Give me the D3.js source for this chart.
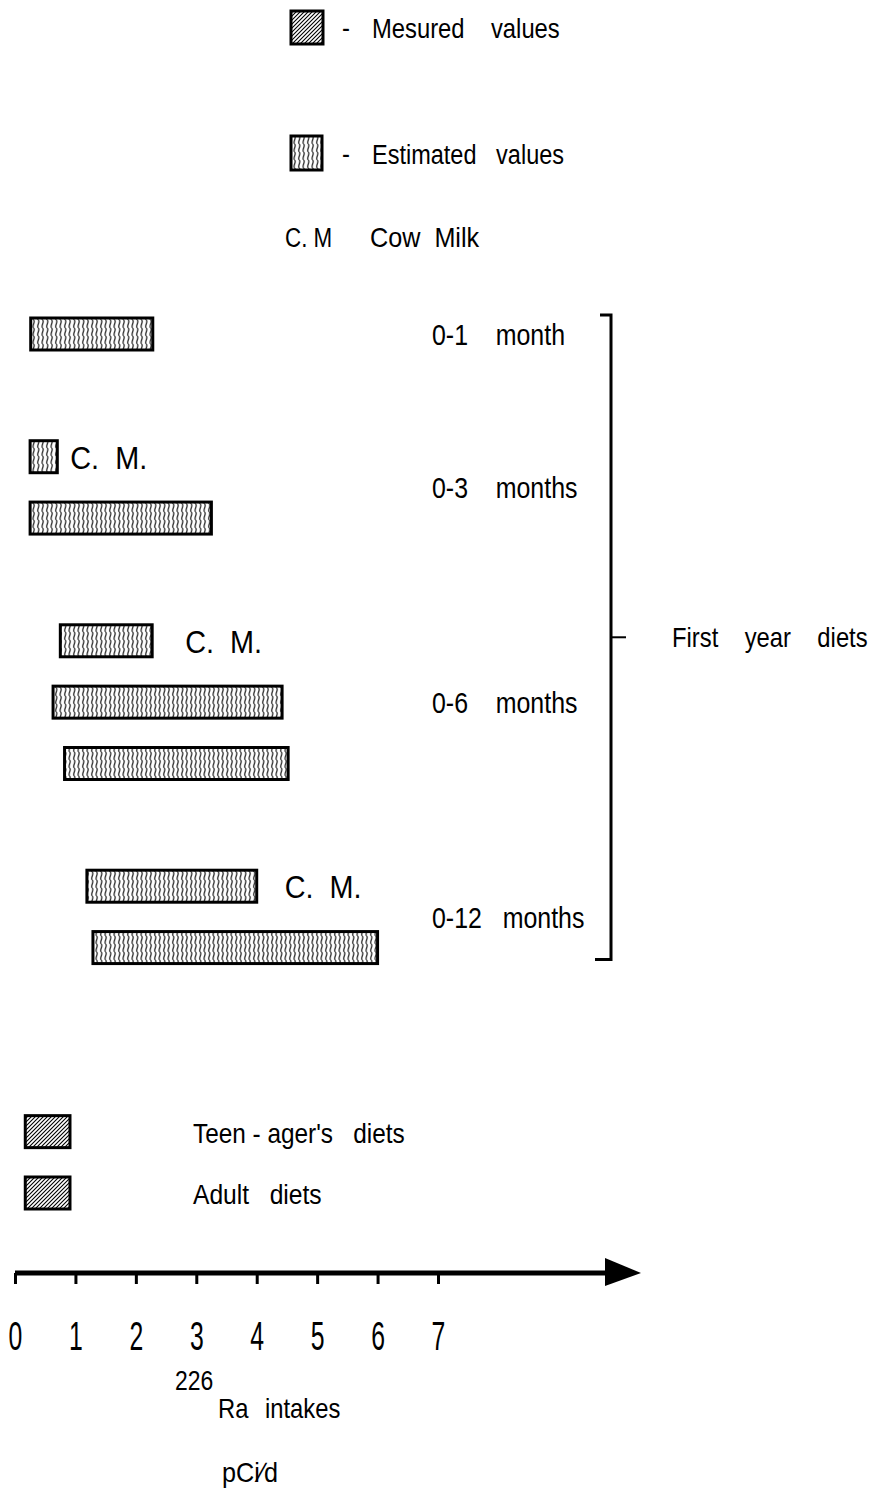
<!doctype html>
<html>
<head>
<meta charset="utf-8">
<title>226Ra intakes</title>
<script src="https://cdn.jsdelivr.net/npm/d3@7"></script>
<style>
  body { margin: 0; background: #fff; }
  svg text { font-family: "Liberation Sans", Arial, sans-serif; fill: #000; white-space: pre; }
</style>
</head>
<body>
<div id="chart"></div>
<script>
// rows of the chart (row index counts empty gaps between groups)
var barNames = ["0-1 month", "0-3 months C.M.", "0-3 months", "0-6 months C.M.", "0-6 months a", "0-6 months b",
                "0-12 months C.M.", "0-12 months", "Teen-ager's diets", "Adult diets"];
var barRow   = [0, 2, 3, 5, 6, 7, 9, 10, 13, 14];
var barStart = [0.26, 0.25, 0.25, 0.75, 0.63, 0.82, 1.19, 1.29, 0.17, 0.17];
var barEnd   = [2.28, 0.70, 3.25, 2.27, 4.42, 4.52, 4.00, 6.00, 0.91, 0.91];
var barKind  = ["est", "est", "est", "est", "est", "est", "est", "est", "meas", "meas"];
var barCM    = [false, true, false, true, false, false, true, false, false, false];

// age group labels and the row they sit on
var groupLabels = ["0-1    month", "0-3    months", "0-6    months", "0-12   months"];
var groupRow    = [0, 2.5, 6, 9.5];

var tickValues = [0, 1, 2, 3, 4, 5, 6, 7];

var W = 872, H = 1491;

var svg = d3.select("#chart").append("svg")
    .attr("width", W)
    .attr("height", H);

// narrow text: the original uses a condensed face, so squeeze horizontally
function label(str, x, y, size, sx) {
  return svg.append("text")
      .attr("transform", "translate(" + x + "," + y + ") scale(" + (sx || 0.85) + ",1)")
      .style("font-size", size + "px")
      .text(str);
}

// scales
var x = d3.scaleLinear().domain([0, 7]).range([15, 438]);
var y = d3.scaleLinear().domain([0, 14]).range([334, 1193]);
var barH = 32;

// patterns
var defs = svg.append("defs");
var wavy = defs.append("pattern")
    .attr("id", "wavy")
    .attr("patternUnits", "userSpaceOnUse")
    .attr("width", 4.5).attr("height", 8);
wavy.append("rect").attr("width", 4.5).attr("height", 8).attr("fill", "#fff");
wavy.append("path")
    .attr("d", "M2.2,0 C4.4,2 0,6 2.2,8")
    .attr("fill", "none").attr("stroke", "#000").attr("stroke-width", 1.1);

var hatch = defs.append("pattern")
    .attr("id", "hatch")
    .attr("patternUnits", "userSpaceOnUse")
    .attr("width", 4).attr("height", 4);
hatch.append("rect").attr("width", 4).attr("height", 4).attr("fill", "#fff");
hatch.append("path")
    .attr("d", "M-1,1 L1,-1 M0,4 L4,0 M3,5 L5,3")
    .attr("stroke", "#000").attr("stroke-width", 1.1);

// bars
var bars = barNames.map(function(n, i) {
  return {name: n, row: barRow[i], start: barStart[i], end: barEnd[i], kind: barKind[i], cm: barCM[i]};
});

svg.selectAll(".bar")
    .data(bars)
  .enter().append("rect")
    .attr("class", "bar")
    .attr("x", function(d) { return x(d.start); })
    .attr("y", function(d) { return y(d.row) - barH / 2; })
    .attr("width", function(d) { return x(d.end) - x(d.start); })
    .attr("height", barH)
    .attr("fill", function(d) { return d.kind == "meas" ? "url(#hatch)" : "url(#wavy)"; })
    .attr("stroke", "#000")
    .attr("stroke-width", 3);

// C. M. labels next to cow milk bars
var cmGap = [13, 33, 28];
bars.filter(function(d) { return d.cm; }).forEach(function(d, i) {
  label("C.  M.", x(d.end) + cmGap[i], y(d.row) + 12, 31, 0.93);
});

// group labels
groupLabels.forEach(function(g, i) {
  label(g, 432, y(groupRow[i]) + 11, 29, 0.86);
});

// teenager / adult labels
label("Teen - ager's   diets", 193, y(13) + 11, 28, 0.87);
label("Adult   diets", 193, y(14) + 11, 28, 0.88);

// bracket for first year diets
var yTop = y(0) - 19, yBot = y(10) + 12;
svg.append("path")
    .attr("d", "M600," + yTop + " L611," + yTop + " L611," + yBot + " L595," + yBot)
    .attr("fill", "none").attr("stroke", "#000").attr("stroke-width", 3);
var yMid = (yTop + yBot) / 2;
svg.append("line")
    .attr("x1", 611).attr("x2", 626).attr("y1", yMid).attr("y2", yMid)
    .attr("stroke", "#000").attr("stroke-width", 2);
label("First    year    diets", 672, yMid + 10, 28, 0.85);

// top legend
svg.append("rect").attr("x", 291).attr("y", 11).attr("width", 32).attr("height", 33)
    .attr("fill", "url(#hatch)").attr("stroke", "#000").attr("stroke-width", 3);
label("-", 342, 37, 28);
label("Mesured    values", 372, 38, 28, 0.85);

svg.append("rect").attr("x", 291).attr("y", 136).attr("width", 31).attr("height", 34)
    .attr("fill", "url(#wavy)").attr("stroke", "#000").attr("stroke-width", 3);
label("-", 342, 163, 28);
label("Estimated   values", 372, 164, 28, 0.84);

label("C. M", 285, 247, 28, 0.8);
label("Cow  Milk", 370, 247, 28, 0.9);

// x axis with arrow
var axisY = 1273;
var axis = svg.append("g")
    .attr("transform", "translate(0," + axisY + ")")
    .call(d3.axisBottom(x).tickValues(tickValues).tickSize(11).tickFormat(d3.format("d")));
axis.select(".domain").remove();
axis.selectAll(".tick line").attr("stroke", "#000").attr("stroke-width", 3);
axis.selectAll(".tick text")
    .attr("y", 77)
    .attr("dy", 0)
    .attr("transform", "scale(0.62,1)")
    .style("font-size", "40px")
    .style("font-family", "'Liberation Sans', Arial, sans-serif")
    .attr("fill", "#000");

svg.append("line")
    .attr("x1", x(0)).attr("x2", 610).attr("y1", axisY).attr("y2", axisY)
    .attr("stroke", "#000").attr("stroke-width", 5);
svg.append("path")
    .attr("d", "M605," + (axisY - 15) + " L641," + axisY + " L605," + (axisY + 13) + "Z")
    .attr("fill", "#000");

// axis title
label("226", 175, 1390, 28, 0.82);
label("Ra", 218, 1418, 28, 0.85);
label("intakes", 265, 1418, 28, 0.85);
label("pCi\u2215d", 222, 1482, 28, 0.9);
</script>
</body>
</html>
